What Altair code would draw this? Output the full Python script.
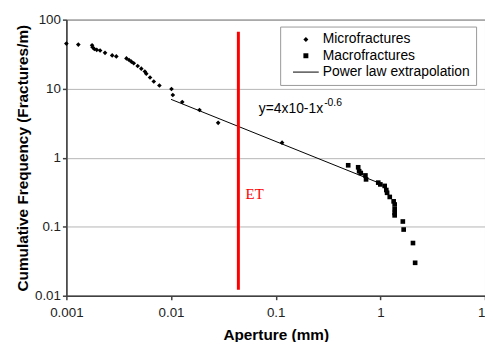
import altair as alt
import pandas as pd

micro_x = [0.001, 0.0013, 0.00176, 0.00178, 0.00185, 0.00195, 0.0021, 0.00234, 0.00274, 0.003,
           0.00375, 0.00397, 0.00418, 0.0044, 0.0048, 0.0052, 0.00562, 0.0058, 0.0063, 0.00684,
           0.00774, 0.0101, 0.0104, 0.0128, 0.0187, 0.0282, 0.115]
micro_y = [45, 43.5, 42.5, 39.8, 37.6, 36.5, 35.7, 33, 30.3, 29.3,
           27.4, 26, 24.6, 23.3, 21.3, 19.5, 17.7, 16.5, 14.5, 12.7,
           11.1, 9.9, 8.1, 6.4, 4.9, 3.2, 1.65]
macro_x = [0.493, 0.614, 0.627, 0.65, 0.72, 0.73, 0.955, 1.0, 1.1, 1.14, 1.16, 1.23,
           1.34, 1.37, 1.37, 1.37, 1.37, 1.64, 1.67, 2.05, 2.15]
macro_y = [0.776, 0.726, 0.637, 0.60, 0.553, 0.485, 0.435, 0.41, 0.39, 0.34, 0.31, 0.27,
           0.233, 0.21, 0.18, 0.158, 0.146, 0.119, 0.091, 0.058, 0.030]
fit_x = [0.01, 0.935]
fit_y = [7.0, 0.44]
et_x = [0.044]
et_y = [0.0122]
et_y2 = [67.0]
series = ["Microfractures", "Macrofractures", "Power law extrapolation"]
x_ticks = [0.001, 0.01, 0.1, 1, 10]
y_ticks = [0.01, 0.1, 1, 10, 100]

pts = pd.concat([
    pd.DataFrame({"x": micro_x, "y": micro_y, "s": series[0]}),
    pd.DataFrame({"x": macro_x, "y": macro_y, "s": series[1]}),
])
fit = pd.DataFrame({"x": fit_x, "y": fit_y})
et = pd.DataFrame({"x": et_x, "y": et_y, "y2": et_y2})
eq = pd.DataFrame({"x": [0.069], "y": [5.0]})
etlab = pd.DataFrame({"x": [0.0516], "y": [0.296]})

xs = alt.Scale(type="log", domain=[0.001, 10], nice=False)
ys = alt.Scale(type="log", domain=[0.01, 100], nice=False)
xax = alt.Axis(values=x_ticks, format="~g", grid=False, title="Aperture (mm)",
               labelFontSize=13.5, titleFontSize=15.5, titleFontWeight="bold",
               labelColor="#222", titleColor="#000", labelFont="Liberation Sans",
               titleFont="Liberation Sans", domainColor="#404040", tickColor="#404040",
               domainWidth=1.5, tickWidth=1.5, tickSize=4, labelPadding=6, titlePadding=9,
               labelFlush=False)
yax = alt.Axis(values=y_ticks, format="~g", grid=True, gridColor="#b5b5b5", gridWidth=1,
               title="Cumulative Frequency (Fractures/m)",
               labelFontSize=13.5, titleFontSize=15.5, titleFontWeight="bold",
               labelColor="#222", titleColor="#000", labelFont="Liberation Sans",
               titleFont="Liberation Sans", domainColor="#404040", tickColor="#404040",
               domainWidth=1.5, tickWidth=1.5, tickSize=4, labelPadding=2, titlePadding=4,
               labelFlush=False)

line_sym = "M-5.2,-0.2H5.2V0.2H-5.2Z"
points = alt.Chart(pts).mark_point(filled=True, color="black", opacity=1).encode(
    x=alt.X("x:Q", scale=xs, axis=xax),
    y=alt.Y("y:Q", scale=ys, axis=yax),
    shape=alt.Shape("s:N", scale=alt.Scale(domain=series,
                                           range=["diamond", "square", line_sym]),
                    legend=alt.Legend(title=None, orient="none", legendX=216, legendY=7,
                                      strokeColor="#999", fillColor="white", padding=6,
                                      labelFontSize=14, labelFont="Liberation Sans",
                                      labelColor="#000", symbolSize=25, symbolOffset=13,
                                      symbolFillColor="black", symbolStrokeWidth=0,
                                      rowPadding=2.5, labelOffset=10)),
    size=alt.value(22),
)

line = alt.Chart(fit).mark_line(color="black", strokeWidth=1).encode(
    x=alt.X("x:Q", scale=xs), y=alt.Y("y:Q", scale=ys))

etline = alt.Chart(et).mark_rule(color="#ff0000", strokeWidth=3).encode(
    x=alt.X("x:Q", scale=xs), y=alt.Y("y:Q", scale=ys), y2="y2:Q")

eqtext = alt.Chart(eq).mark_text(text="y=4x10-1x", align="left", baseline="middle",
                                 fontSize=14, font="Liberation Sans", color="#000").encode(
    x=alt.X("x:Q", scale=xs), y=alt.Y("y:Q", scale=ys))
eqsup = alt.Chart(eq).mark_text(text="-0.6", align="left", baseline="middle", dx=66, dy=-6,
                                fontSize=10.5, font="Liberation Sans", color="#000").encode(
    x=alt.X("x:Q", scale=xs), y=alt.Y("y:Q", scale=ys))
ettext = alt.Chart(etlab).mark_text(text="ET", align="left", baseline="middle",
                                    fontSize=15, font="Liberation Serif", color="#ff0000").encode(
    x=alt.X("x:Q", scale=xs), y=alt.Y("y:Q", scale=ys))

chart = alt.layer(line, etline, points, eqtext, eqsup, ettext).properties(
    width=423, height=279,
    autosize=alt.AutoSizeParams(type="none"),
    padding={"left": 59, "top": 10, "right": 0, "bottom": 45},
).configure_view(stroke="#555", strokeWidth=1)

chart.save("out.html", embed_options={"renderer": "svg", "actions": False})
